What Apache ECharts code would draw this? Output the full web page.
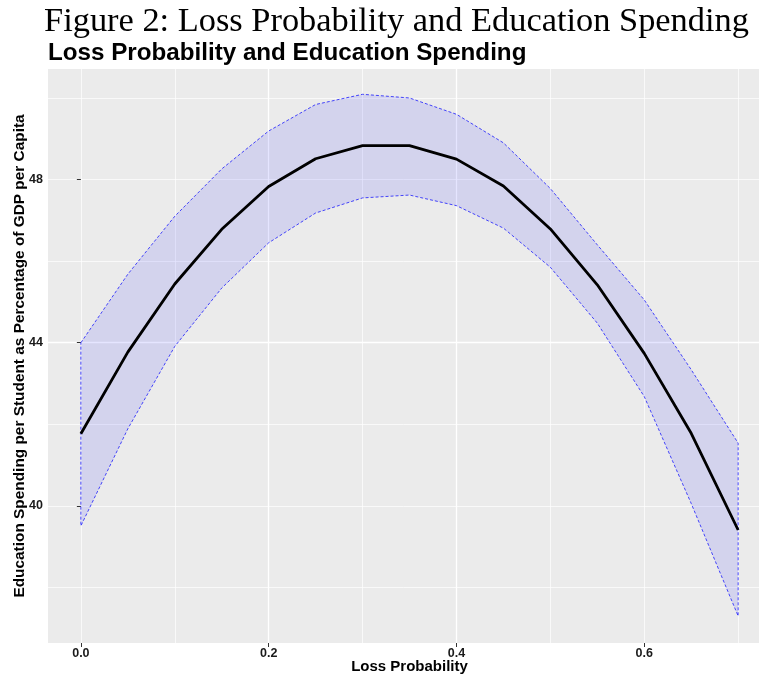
<!DOCTYPE html>
<html>
<head>
<meta charset="utf-8">
<script src="https://cdn.jsdelivr.net/npm/echarts@6/dist/echarts.min.js"></script>
<style>
  html, body { margin: 0; padding: 0; background: #fff; }
  #chart { width: 759px; height: 677px; }
</style>
</head>
<body>
<div id="chart"></div>
<script>
// ---- data ----
const xVals     = [0, 0.05, 0.1, 0.15, 0.2, 0.25, 0.3, 0.35, 0.4, 0.45, 0.5, 0.55, 0.6, 0.65, 0.7];
const fitVals   = [41.77, 43.77, 45.44, 46.78, 47.83, 48.51, 48.83, 48.83, 48.50, 47.84, 46.79, 45.42, 43.74, 41.78, 39.41];
const upperVals = [44.00, 45.68, 47.10, 48.26, 49.19, 49.84, 50.09, 50.00, 49.60, 48.90, 47.78, 46.40, 45.05, 43.34, 41.54];
const lowerVals = [39.51, 41.89, 43.91, 45.34, 46.45, 47.18, 47.55, 47.62, 47.36, 46.81, 45.85, 44.48, 42.68, 40.06, 37.30];
const xTickVals = [0, 0.2, 0.4, 0.6];
const yTickVals = [40, 44, 48];

const figureTitle = 'Figure 2: Loss Probability and Education Spending';
const plotTitle   = 'Loss Probability and Education Spending';
const xName = 'Loss Probability';
const yName = 'Education Spending per Student as Percentage of GDP per Capita';

// visible panel spans x 48..759 (the ggplot panel is cut by the image edge)
const xMin = -0.035, xMax = 0.7222;
const yMin = 36.64, yMax = 50.71;

const chart = echarts.init(document.getElementById('chart'), null, { renderer: 'canvas' });

const labelFont = { fontFamily: 'Liberation Sans', fontWeight: 'bold', fontSize: 12.5, color: '#1a1a1a' };
const isTick = (list, v) => list.some(t => Math.abs(t - v) < 1e-6);

const option = {
  animation: false,
  grid: { left: 48, top: 69, width: 711, height: 574, show: true, backgroundColor: '#EBEBEB', borderWidth: 0, containLabel: false },
  xAxis: [
    { // minor grid
      type: 'value', position: 'top', min: xMin, max: xMax,
      splitNumber: 8, minInterval: 0.1, maxInterval: 0.1,
      axisLine: { show: false }, axisTick: { show: false }, axisLabel: { show: false },
      splitLine: { show: true, showMinLine: false, showMaxLine: false, lineStyle: { color: '#ffffff', width: 0.7 } }
    },
    { // major grid, ticks, labels
      type: 'value', position: 'bottom', min: xMin, max: xMax,
      splitNumber: 4, minInterval: 0.2, maxInterval: 0.2,
      axisLine: { show: false },
      axisTick: { show: true, length: 4, customValues: xTickVals, lineStyle: { color: '#333333', width: 1 } },
      axisLabel: Object.assign({ margin: 4, customValues: xTickVals, showMinLabel: true, showMaxLabel: true,
        formatter: v => isTick(xTickVals, v) ? Number(v).toFixed(1) : '' }, labelFont),
      splitLine: { show: true, showMinLine: false, showMaxLine: false, lineStyle: { color: '#ffffff', width: 1.3 } }
    }
  ],
  yAxis: [
    { // minor grid
      type: 'value', position: 'right', min: yMin, max: yMax,
      splitNumber: 7, minInterval: 2, maxInterval: 2,
      axisLine: { show: false }, axisTick: { show: false }, axisLabel: { show: false },
      splitLine: { show: true, showMinLine: false, showMaxLine: false, lineStyle: { color: '#ffffff', width: 0.7 } }
    },
    { // major grid, ticks, labels
      type: 'value', position: 'left', min: yMin, max: yMax,
      splitNumber: 3, minInterval: 4, maxInterval: 4,
      axisLine: { show: false },
      axisTick: { show: true, length: 4, customValues: yTickVals, lineStyle: { color: '#333333', width: 1 } },
      axisLabel: Object.assign({ margin: 5, customValues: yTickVals,
        formatter: v => isTick(yTickVals, v) ? String(Math.round(v)) : '' }, labelFont),
      splitLine: { show: true, showMinLine: false, showMaxLine: false, lineStyle: { color: '#ffffff', width: 1.3 } }
    }
  ],
  series: [
    {
      type: 'custom', name: 'band', xAxisIndex: 1, yAxisIndex: 1, silent: true, z: 2,
      data: [[xVals[0], upperVals[0]]],
      renderItem: function (params, api) {
        if (params.dataIndex !== 0) return null;
        const pts = [];
        for (let i = 0; i < xVals.length; i++) pts.push(api.coord([xVals[i], upperVals[i]]));
        for (let i = xVals.length - 1; i >= 0; i--) pts.push(api.coord([xVals[i], lowerVals[i]]));
        return {
          type: 'polygon',
          shape: { points: pts },
          style: { fill: 'rgba(0,0,255,0.1)', stroke: '#0000FF', lineWidth: 0.7, lineDash: [3, 2] }
        };
      }
    },
    {
      type: 'line', name: 'fit', xAxisIndex: 1, yAxisIndex: 1, silent: true, z: 3,
      data: xVals.map((x, i) => [x, fitVals[i]]),
      symbol: 'none', showSymbol: false,
      lineStyle: { color: '#000000', width: 2.8 }
    }
  ],
  graphic: [
    { type: 'text', x: 44, y: 22, silent: true,
      style: { text: figureTitle, font: '34.4px "Liberation Serif"', fill: '#000', textAlign: 'left', textVerticalAlign: 'middle' } },
    { type: 'text', x: 48, y: 53, silent: true,
      style: { text: plotTitle, font: 'bold 24.2px "Liberation Sans"', fill: '#000', textAlign: 'left', textVerticalAlign: 'middle' } },
    { type: 'text', x: 409.5, y: 667, silent: true,
      style: { text: xName, font: 'bold 15px "Liberation Sans"', fill: '#000', textAlign: 'center', textVerticalAlign: 'middle' } },
    { type: 'text', x: 19.7, y: 356, rotation: Math.PI / 2, silent: true,
      style: { text: yName, font: 'bold 15.4px "Liberation Sans"', fill: '#000', textAlign: 'center', textVerticalAlign: 'middle' } }
  ]
};

chart.setOption(option);
</script>
</body>
</html>
